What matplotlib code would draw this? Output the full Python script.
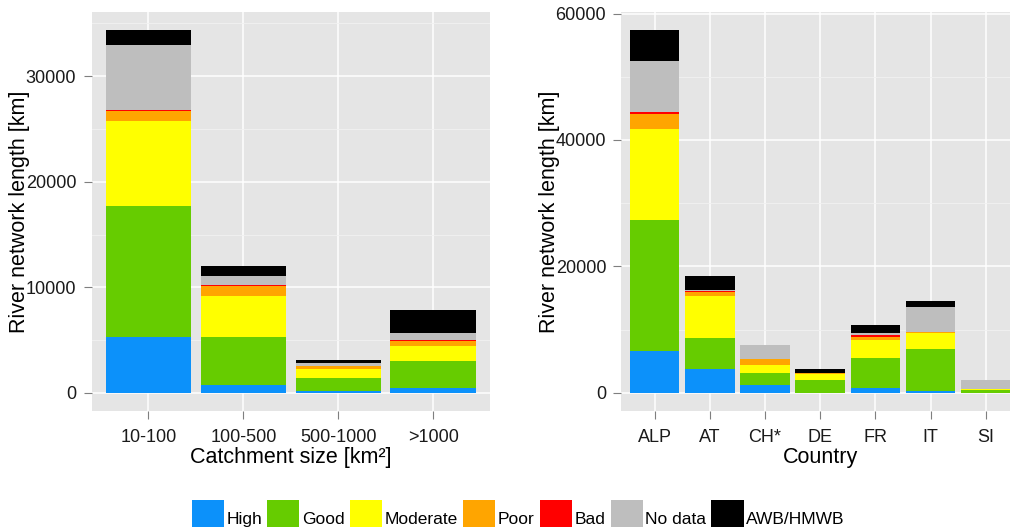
import numpy as np
import matplotlib.pyplot as plt
from matplotlib.patches import Patch, Rectangle
from matplotlib.legend_handler import HandlerPatch

plt.rcParams['font.family'] = ['Liberation Sans', 'DejaVu Sans']

status = ['High', 'Good', 'Moderate', 'Poor', 'Bad', 'No data', 'AWB/HMWB']
colors = ['#0C91FA', '#66CC00', '#FFFF00', '#FFA500', '#FF0000', '#BEBEBE', '#000000']

# river length [km] per status, by catchment size class
size_classes = ['10-100', '100-500', '500-1000', '>1000']
size_high = [5260, 790, 150, 440]
size_good = [12450, 4540, 1300, 2550]
size_moderate = [8070, 3810, 850, 1420]
size_poor = [880, 945, 280, 535]
size_bad = [95, 95, 0, 95]
size_nodata = [6210, 915, 280, 600]
size_awb = [1390, 945, 290, 2240]

# river length [km] per status, by country
countries = ['ALP', 'AT', 'CH*', 'DE', 'FR', 'IT', 'SI']
cty_high = [6580, 3840, 1310, 0, 840, 360, 0]
cty_good = [20790, 4900, 1890, 2100, 4730, 6640, 410]
cty_moderate = [14370, 6530, 1270, 900, 2850, 2520, 220]
cty_poor = [2370, 740, 950, 200, 470, 160, 0]
cty_bad = [320, 50, 0, 0, 210, 0, 0]
cty_nodata = [8050, 210, 2210, 0, 420, 3840, 1360]
cty_awb = [4890, 2260, 0, 530, 1260, 1050, 0]


def stacked(ax, cats, series, xlabel, minor_step):
    x = np.arange(len(cats))
    bottom = np.zeros(len(cats))
    for vals, col in zip(series, colors):
        vals = np.array(vals, dtype=float)
        ax.bar(x, vals, width=0.9, bottom=bottom, color=col, linewidth=0, zorder=3)
        bottom += vals
    top = bottom.max()
    ax.set_ylim(-0.05 * top, 1.05 * top)
    ax.set_xlim(-0.6, len(cats) - 0.4)
    ax.set_facecolor('#E5E5E5')
    for s in ax.spines.values():
        s.set_visible(False)
    ax.set_xticks(x)
    ax.set_xticklabels(cats)
    ax.set_yticks(np.arange(0, top * 1.05, 2 * minor_step))
    ax.set_yticks(np.arange(minor_step, top * 1.05, 2 * minor_step), minor=True)
    ax.grid(True, which='major', color='white', linewidth=1.1, zorder=0)
    ax.grid(True, which='minor', axis='y', color='#F2F2F2', linewidth=0.6, zorder=0)
    ax.tick_params(which='major', length=6, width=0.8, color='#7F7F7F',
                   labelsize=13, labelcolor='#1A1A1A', pad=5)
    ax.tick_params(axis='x', which='major', pad=7)
    ax.tick_params(which='minor', length=0)
    ax.set_xlabel(xlabel, fontsize=15.5, labelpad=1)
    ax.set_ylabel('River network length [km]', fontsize=15.5)
    ax.yaxis.set_label_coords(-0.155, 0.5)
    ax.set_axisbelow(True)


# legend keys sit a bit higher so the label text lines up with the key bottom
def raised_key(legend, orig_handle, xdescent, ydescent, width, height, fontsize):
    return Rectangle((-xdescent, -ydescent + 0.3 * fontsize), width, height)


fig = plt.figure(figsize=(10.1, 5.3), dpi=100)
ax1 = fig.add_axes([0.0906, 0.2245, 0.3946, 0.7528])
ax2 = fig.add_axes([0.6153, 0.2245, 0.3936, 0.7528])

stacked(ax1, size_classes,
        [size_high, size_good, size_moderate, size_poor, size_bad, size_nodata, size_awb],
        'Catchment size [km²]', 5000)
stacked(ax2, countries,
        [cty_high, cty_good, cty_moderate, cty_poor, cty_bad, cty_nodata, cty_awb],
        'Country', 10000)

handles = [Patch(facecolor=c, edgecolor='none') for c in colors]
fig.legend(handles, status, loc='lower center', bbox_to_anchor=(0.513, -0.004), ncol=7,
           frameon=False, fontsize=12.5, handlelength=1.85, handleheight=2.0,
           handletextpad=0.15, columnspacing=0.3, borderaxespad=0, borderpad=0,
           handler_map={Patch: HandlerPatch(patch_func=raised_key)})

fig.savefig('out.png', dpi=100)
